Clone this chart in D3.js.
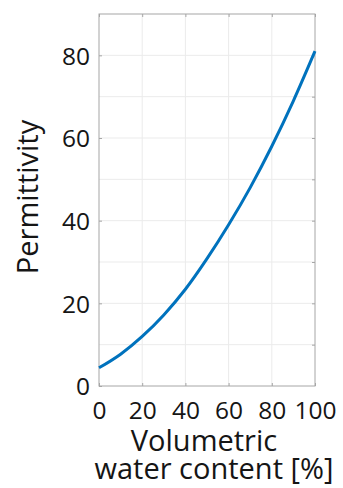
<!DOCTYPE html>
<html>
<head>
<meta charset="utf-8">
<script src="https://cdn.jsdelivr.net/npm/d3@7"></script>
<style>
  body { margin: 0; background: #fff; }
  svg { display: block; }
  text { font-family: "Open Sans", "Liberation Sans", sans-serif; fill: #151515; }
</style>
</head>
<body>
<svg></svg>
<script>
// values
const waterContent = [0, 10, 20, 30, 40, 50, 60, 70, 80, 90, 100];
const permittivity = [4.4, 7.7, 12, 17.2, 23.4, 30.8, 39, 48, 58, 69, 81];
const xTicks = [0, 20, 40, 60, 80, 100];
const yTicks = [0, 20, 40, 60, 80];
const yGrid = [10, 20, 30, 40, 50, 60, 70, 80];

const width = 343;
const height = 488;
const margin = { top: 14, right: 28, bottom: 102, left: 99 };
const innerW = width - margin.left - margin.right;
const innerH = height - margin.top - margin.bottom;

const svg = d3.select('svg')
    .attr('width', width)
    .attr('height', height);

const g = svg.append('g')
    .attr('transform', `translate(${margin.left},${margin.top})`);

const x = d3.scaleLinear().domain([0, 100]).range([0, innerW]);
const y = d3.scaleLinear().domain([0, 90]).range([innerH, 0]);

// grid
g.append('g')
    .selectAll('line')
    .data(xTicks.slice(1, -1))
    .enter().append('line')
    .attr('x1', d => x(d)).attr('x2', d => x(d))
    .attr('y1', 0).attr('y2', innerH)
    .attr('stroke', '#ebebeb');

g.append('g')
    .selectAll('line')
    .data(yGrid)
    .enter().append('line')
    .attr('x1', 0).attr('x2', innerW)
    .attr('y1', d => y(d)).attr('y2', d => y(d))
    .attr('stroke', '#ebebeb');

// box
g.append('rect')
    .attr('width', innerW)
    .attr('height', innerH)
    .attr('fill', 'none')
    .attr('stroke', '#a6a6a6')
    .attr('stroke-width', 1);

// axes with inward ticks
const xAxis = g.append('g')
    .attr('transform', `translate(0,${innerH})`)
    .call(d3.axisBottom(x).tickValues(xTicks).tickSizeInner(-3).tickSizeOuter(0).tickPadding(10));

const yAxis = g.append('g')
    .call(d3.axisLeft(y).tickValues(yTicks).tickSizeInner(-3).tickSizeOuter(0).tickPadding(9));

g.append('g')
    .call(d3.axisTop(x).tickValues(xTicks).tickSizeInner(-3).tickSizeOuter(0).tickFormat(''));
g.append('g')
    .attr('transform', `translate(${innerW},0)`)
    .call(d3.axisRight(y).tickValues(yGrid).tickSizeInner(-3).tickSizeOuter(0).tickFormat(''));

g.selectAll('.domain').remove();
g.selectAll('.tick line').attr('stroke', '#a6a6a6');
g.selectAll('.tick text')
    .attr('font-size', 24.5)
    .attr('fill', '#151515')
    .style('font-family', '"Open Sans", "Liberation Sans", sans-serif');
xAxis.selectAll('.tick text').attr('dy', '0.93em');
yAxis.selectAll('.tick text').attr('dy', '0.36em');

// curve
const line = d3.line()
    .x((d, i) => x(waterContent[i]))
    .y(d => y(d))
    .curve(d3.curveMonotoneX);

g.append('path')
    .datum(permittivity)
    .attr('fill', 'none')
    .attr('stroke', '#0072BD')
    .attr('stroke-width', 3)
    .attr('d', line);

// labels
svg.append('text')
    .attr('transform', `translate(38,197) rotate(-90)`)
    .attr('text-anchor', 'middle')
    .attr('font-size', 29)
    .text('Permittivity');

svg.append('text')
    .attr('x', 204)
    .attr('y', 451)
    .attr('text-anchor', 'middle')
    .attr('font-size', 29)
    .text('Volumetric');

svg.append('text')
    .attr('x', 214)
    .attr('y', 479)
    .attr('text-anchor', 'middle')
    .attr('font-size', 29)
    .text('water content [%]');
</script>
</body>
</html>
